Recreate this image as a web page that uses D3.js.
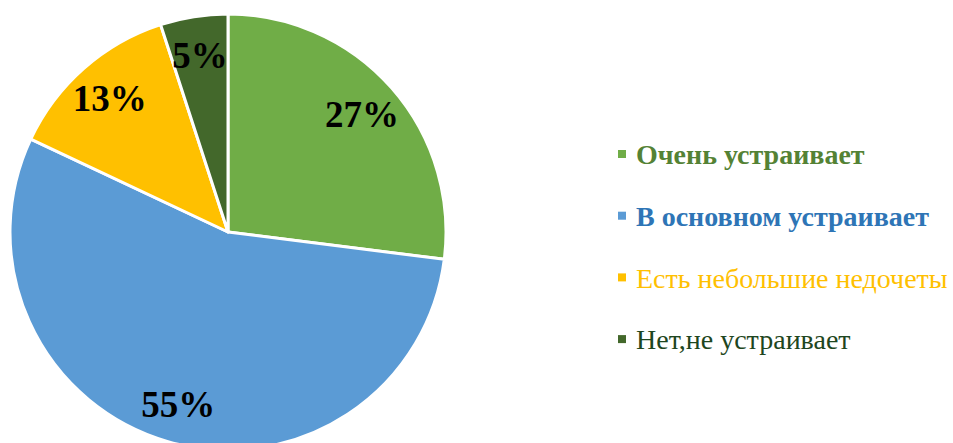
<!DOCTYPE html>
<html>
<head>
<meta charset="utf-8">
<script src="https://cdn.jsdelivr.net/npm/d3@7"></script>
<style>
  body { margin: 0; background: #fff; }
  svg { display: block; font-family: "Liberation Serif", "Times New Roman", serif; }
</style>
</head>
<body>
<div id="chart"></div>
<script>
// data
const categories = ["Очень устраивает", "В основном устраивает", "Есть небольшие недочеты", "Нет,не устраивает"];
const values = [27, 55, 13, 5];
const sliceColors = ["#70ad47", "#5b9bd5", "#ffc000", "#43682b"];
const textColors = ["#548235", "#2e75b6", "#ffc000", "#1e4620"];
const boldLegend = [true, true, false, false];

const w = 953, h = 443;
const cx = 228, cy = 232, radius = 218;

const svg = d3.select("#chart").append("svg")
  .attr("width", w)
  .attr("height", h);

const g = svg.append("g")
  .attr("transform", `translate(${cx}, ${cy})`);

const pie = d3.pie().sort(null).value(d => d);
const arc = d3.arc().innerRadius(0).outerRadius(radius);
const labelArc = d3.arc().innerRadius(radius * 0.82).outerRadius(radius * 0.82);

const arcs = pie(values);

g.selectAll("path")
  .data(arcs)
  .join("path")
  .attr("d", arc)
  .attr("fill", (d, i) => sliceColors[i])
  .attr("stroke", "#fff")
  .attr("stroke-width", 3)
  .attr("stroke-linejoin", "round");

g.selectAll("text")
  .data(arcs)
  .join("text")
  .attr("transform", d => `translate(${labelArc.centroid(d)})`)
  .attr("text-anchor", "middle")
  .attr("dy", "0.35em")
  .style("font-size", "37px")
  .style("font-weight", "bold")
  .style("fill", "#000")
  .text(d => d.data + "%");

// legend
const legend = svg.append("g")
  .attr("transform", "translate(618, 155)");

const rows = legend.selectAll("g")
  .data(categories)
  .join("g")
  .attr("transform", (d, i) => `translate(0, ${i * 61.7})`);

rows.append("rect")
  .attr("x", 0)
  .attr("y", -5)
  .attr("width", 8)
  .attr("height", 8)
  .attr("fill", (d, i) => sliceColors[i]);

rows.append("text")
  .attr("x", 18)
  .attr("dy", "0.33em")
  .style("font-size", "28px")
  .style("font-weight", (d, i) => boldLegend[i] ? "bold" : "normal")
  .style("fill", (d, i) => textColors[i])
  .text(d => d);
</script>
</body>
</html>
